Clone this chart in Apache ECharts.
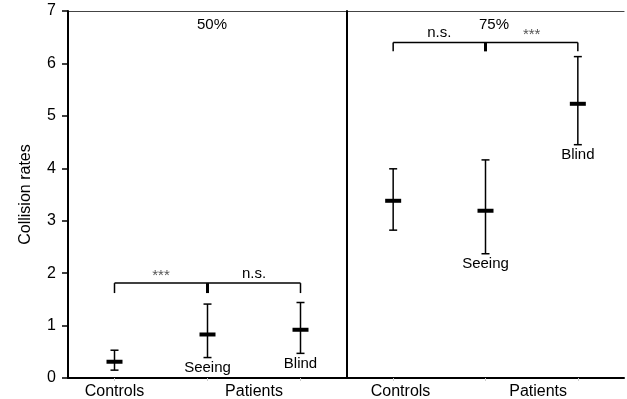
<!DOCTYPE html>
<html>
<head>
<meta charset="utf-8">
<script src="https://cdn.jsdelivr.net/npm/echarts@6/dist/echarts.min.js"></script>
<style>html,body{margin:0;padding:0;background:#fff}#c{width:627px;height:399px}</style>
</head>
<body>
<div id="c"></div>
<script>
const panelTitles = ['50%', '75%'];
const categories = ['Controls', 'Seeing', 'Blind'];
const pointLabels = ['', 'Seeing', 'Blind'];
const groupLabels = ['Controls', 'Patients'];
const groupLabelPos50 = [0.5, 2.0];
const groupLabelPos75 = [0.58, 2.07];
const yTicks = [0, 1, 2, 3, 4, 5, 6, 7];

const mean50 = [0.31, 0.83, 0.92];
const low50  = [0.15, 0.39, 0.47];
const high50 = [0.53, 1.41, 1.44];

const mean75 = [3.38, 3.19, 5.23];
const low75  = [2.82, 2.37, 4.45];
const high75 = [3.99, 4.16, 6.13];

const bracket50 = [1.81, 1.62];
const bracket75 = [6.40, 6.23];
const sig50 = ['***', 'n.s.'];
const sig75 = ['n.s.', '***'];

const FONT = '"Liberation Sans", Arial, sans-serif';

function errData(lo, m, hi) {
  return categories.map((c, i) => [i, lo[i], m[i], hi[i], pointLabels[i]]);
}

function renderErr(params, api) {
  const x = api.value(0);
  const lo = api.coord([x, api.value(1)]);
  const m = api.coord([x, api.value(2)]);
  const hi = api.coord([x, api.value(3)]);
  const capW = 4, meanW = 8;
  const st = { stroke: '#000', lineWidth: 1.5 };
  const children = [
    { type: 'line', shape: { x1: lo[0], y1: lo[1], x2: hi[0], y2: hi[1] }, style: st },
    { type: 'line', shape: { x1: lo[0] - capW, y1: lo[1], x2: lo[0] + capW, y2: lo[1] }, style: st },
    { type: 'line', shape: { x1: hi[0] - capW, y1: hi[1], x2: hi[0] + capW, y2: hi[1] }, style: st },
    { type: 'rect', shape: { x: m[0] - meanW, y: m[1] - 2, width: meanW * 2, height: 4 }, style: { fill: '#000' } }
  ];
  const lab = api.value(4);
  if (lab) {
    children.push({ type: 'text', x: lo[0], y: lo[1] + 3,
      style: { text: lab, font: '15px ' + FONT, fill: '#000', align: 'center', verticalAlign: 'top' } });
  }
  return { type: 'group', children };
}

function makeBracket(levels, sig) {
  return function (params, api) {
    const top = levels[0], foot = levels[1];
    const p0 = api.coord([0, top]), p1 = api.coord([1, top]), p2 = api.coord([2, top]);
    const f = api.coord([0, foot])[1];
    const st = { stroke: '#000', lineWidth: 1.5 };
    const children = [
      { type: 'line', shape: { x1: p0[0], y1: p0[1], x2: p2[0], y2: p2[1] }, style: st },
      { type: 'line', shape: { x1: p0[0], y1: p0[1], x2: p0[0], y2: f }, style: st },
      { type: 'line', shape: { x1: p2[0], y1: p2[1], x2: p2[0], y2: f }, style: st },
      { type: 'line', shape: { x1: p1[0], y1: p1[1], x2: p1[0], y2: f }, style: { stroke: '#000', lineWidth: 3 } }
    ];
    const mids = [(p0[0] + p1[0]) / 2, (p1[0] + p2[0]) / 2];
    sig.forEach((s, i) => {
      const stars = s === '***';
      children.push({ type: 'text', x: mids[i], y: p0[1] - (stars ? 0 : 2),
        style: { text: s, font: '15px ' + FONT, fill: stars ? '#555' : '#000',
          align: 'center', verticalAlign: 'bottom' } });
    });
    return { type: 'group', children };
  };
}

const chart = echarts.init(document.getElementById('c'), null, { renderer: 'canvas' });

const grids = [
  { left: 68, right: 280, top: 11, bottom: 21, containLabel: false, outerBoundsMode: 'none' },
  { left: 347, right: 3, top: 11, bottom: 21, containLabel: false, outerBoundsMode: 'none' }
];

const xAxes = [];
const yAxes = [];
[0, 1].forEach(g => {
  xAxes.push({
    type: 'category', gridIndex: g, data: categories, position: 'bottom',
    axisLine: { show: true, lineStyle: { color: '#000', width: 2 } },
    axisTick: { show: true, alignWithLabel: true, length: 3, lineStyle: { color: '#ccc' } },
    axisLabel: { show: false }, splitLine: { show: false }, z: 3
  });
  xAxes.push({
    type: 'value', gridIndex: g, min: 0, max: 3, position: 'bottom',
    axisLine: { show: false }, axisTick: { show: false }, splitLine: { show: false },
    axisLabel: {
      show: true, margin: 6, color: '#000', fontSize: 16, fontFamily: FONT,
      customValues: g === 0 ? groupLabelPos50 : groupLabelPos75,
      formatter: (v) => {
        const arr = g === 0 ? groupLabelPos50 : groupLabelPos75;
        const k = arr.findIndex(a => Math.abs(a - v) < 1e-6);
        return k >= 0 ? groupLabels[k] : '';
      }
    }
  });
  xAxes.push({
    type: 'value', gridIndex: g, min: 0, max: 3, position: 'top',
    axisLine: { show: true, lineStyle: { color: '#444', width: 1.2 } },
    axisTick: { show: false }, axisLabel: { show: false }, splitLine: { show: false }, z: 1
  });
  yAxes.push({
    type: 'value', gridIndex: g, min: yTicks[0], max: yTicks[yTicks.length - 1], interval: 1,
    axisLine: { show: true, lineStyle: { color: '#000', width: 2 } },
    axisTick: { show: g === 0, length: 6, lineStyle: { color: '#000', width: 1.5 } },
    axisLabel: { show: g === 0, margin: 12, color: '#000', fontSize: 16, fontFamily: FONT },
    splitLine: { show: false }, z: 3,
    name: g === 0 ? 'Collision rates' : '', nameLocation: 'middle', nameGap: 34,
    nameTextStyle: { color: '#000', fontSize: 16, fontFamily: FONT }
  });
});
// extend the top rule to the right edge of the picture
xAxes[5].axisLine.onZero = false;

chart.setOption({
  animation: false,
  backgroundColor: '#fff',
  title: [
    { text: panelTitles[0], left: 207, top: 12, textAlign: 'center',
      textStyle: { fontSize: 15, fontWeight: 'normal', color: '#000', fontFamily: FONT } },
    { text: panelTitles[1], left: 489, top: 12, textAlign: 'center',
      textStyle: { fontSize: 15, fontWeight: 'normal', color: '#000', fontFamily: FONT } }
  ],
  grid: grids,
  xAxis: xAxes,
  yAxis: yAxes,
  series: [
    { type: 'custom', xAxisIndex: 0, yAxisIndex: 0, renderItem: renderErr,
      encode: { x: 0, y: [1, 2, 3] }, data: errData(low50, mean50, high50), clip: false, z: 5 },
    { type: 'custom', xAxisIndex: 3, yAxisIndex: 1, renderItem: renderErr,
      encode: { x: 0, y: [1, 2, 3] }, data: errData(low75, mean75, high75), clip: false, z: 5 },
    { type: 'custom', xAxisIndex: 0, yAxisIndex: 0, renderItem: makeBracket(bracket50, sig50),
      data: [[1, bracket50[0]]], clip: false, z: 5 },
    { type: 'custom', xAxisIndex: 3, yAxisIndex: 1, renderItem: makeBracket(bracket75, sig75),
      data: [[1, bracket75[0]]], clip: false, z: 5 }
  ]
});
</script>
</body>
</html>
